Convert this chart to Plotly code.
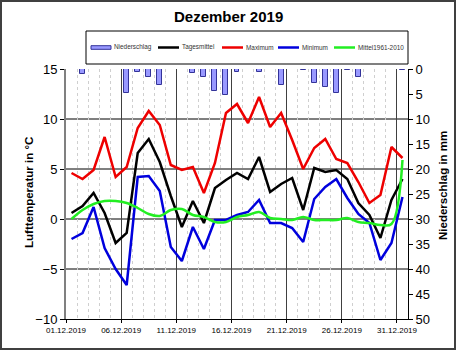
import plotly.graph_objects as go

# ---------------- data ----------------
days = list(range(1, 32))
tick_pos = [0.5, 5.5, 10.5, 15.5, 20.5, 25.5, 30.5]
tick_labels = ["01.12.2019", "06.12.2019", "11.12.2019", "16.12.2019",
               "21.12.2019", "26.12.2019", "31.12.2019"]

niederschlag = [0, 1.0, 0, 0, 0, 4.7, 0.5, 1.6, 3.2, 0, 0, 0.7, 1.6, 4.3, 5.1, 0.5,
                0, 0.5, 0, 3.1, 0, 0.1, 2.7, 3.5, 4.7, 0.1, 1.5, 0, 0, 0, 0.1]
tagesmittel = [0.6, 1.3, 2.6, 0.6, -2.4, -1.4, 6.6, 8.0, 5.7, 2.3, -0.8, 1.8, -0.4, 3.1,
               3.9, 4.6, 4.0, 6.2, 2.7, 3.5, 4.1, 0.9, 5.1, 4.7, 4.9, 4.0, 1.6, 0.4,
               -1.9, 1.9, 4.0]
maximum = [4.6, 4.0, 4.9, 8.2, 4.2, 5.2, 9.1, 10.8, 9.4, 5.4, 4.9, 5.2, 2.6, 5.6, 10.6,
           11.5, 9.6, 12.2, 9.2, 10.6, 7.9, 5.0, 7.1, 8.0, 6.0, 5.6, 3.7, 1.6, 2.4,
           7.2, 6.1]
minimum = [-2.0, -1.4, 1.2, -2.9, -5.0, -6.6, 4.2, 4.3, 2.8, -2.8, -4.2, -0.8, -3.0,
           -0.1, -0.1, 0.4, 0.7, 1.9, -0.4, -0.4, -0.9, -2.3, 2.0, 3.2, 4.0, 2.1, 0.5,
           -0.4, -4.1, -2.4, 2.2]
mittel_1961_2010 = [0.0, 0.9, 1.5, 1.8, 1.8, 1.6, 1.1, 0.5, 0.3, 0.9, 1.0, 0.4, 0.2,
                    -0.3, -0.3, 0.2, 0.4, 0.7, 0.1, 0.0, -0.1, 0.2, -0.1, -0.1, -0.1,
                    0.1, -0.3, -0.4, -0.6, -0.5, 5.9]

# ---------------- layout helpers ----------------
W, H = 456, 350
L, R, T, B = 66, 408, 69, 319
FONT = "Arial, Liberation Sans, sans-serif"


def px_x(p):
    return (p - L) / (R - L)


def px_y(p):
    return (B - p) / (B - T)


fig = go.Figure()

fig.add_trace(go.Bar(
    x=days, y=niederschlag, yaxis="y", width=0.45,
    marker=dict(color="#9999ff", line=dict(color="#333399", width=1)),
    name="Niederschlag", showlegend=False))

series = [
    ("Tagesmittel", tagesmittel, "#000000", "linear"),
    ("Maximum", maximum, "#ee0000", "linear"),
    ("Minimum", minimum, "#0000dd", "linear"),
    ("Mittel1961-2010", mittel_1961_2010, "#22ee22", "spline"),
]
for name, vals, color, shape in series:
    fig.add_trace(go.Scatter(
        x=days, y=vals, yaxis="y2", mode="lines", name=name,
        line=dict(color=color, width=2.5, shape=shape),
        showlegend=False))

shapes = []
# horizontal grid lines of the temperature axis
for v in [10, 5, 0, -5]:
    shapes.append(dict(type="line", xref="paper", x0=0, x1=1, yref="y2", y0=v, y1=v,
                       line=dict(color="#000000", width=1), layer="below"))
# outer frame
shapes.append(dict(type="rect", xref="paper", yref="paper",
                   x0=px_x(1), x1=px_x(455), y0=px_y(1), y1=px_y(349),
                   line=dict(color="#404040", width=2)))
# legend box
shapes.append(dict(type="rect", xref="paper", yref="paper",
                   x0=px_x(86), x1=px_x(408), y0=px_y(31), y1=px_y(64),
                   line=dict(color="#000000", width=1), fillcolor="white"))

annotations = []
ly = 47.5
legend_items = [
    ("Niederschlag", "bar", "#9999ff", 91, 111, 112),
    ("Tagesmittel", "line", "#000000", 158, 179, 180),
    ("Maximum", "line", "#ee0000", 222, 243, 244),
    ("Minimum", "line", "#0000dd", 278, 299, 300),
    ("Mittel1961-2010", "line", "#22ee22", 334, 355, 356),
]
for text, kind, color, s0, s1, tx in legend_items:
    if kind == "bar":
        shapes.append(dict(type="rect", xref="paper", yref="paper",
                           x0=px_x(s0), x1=px_x(s1), y0=px_y(ly - 1.8), y1=px_y(ly + 1.8),
                           fillcolor=color, line=dict(color="#333399", width=1)))
    else:
        shapes.append(dict(type="line", xref="paper", yref="paper",
                           x0=px_x(s0), x1=px_x(s1), y0=px_y(ly), y1=px_y(ly),
                           line=dict(color=color, width=2.5)))
    annotations.append(dict(text=text, xref="paper", yref="paper", x=px_x(tx), y=px_y(ly),
                            xanchor="left", yanchor="middle", showarrow=False,
                            font=dict(family=FONT, size=6.4, color="#333333")))

annotations.append(dict(text="<b>Dezember 2019</b>", xref="paper", yref="paper",
                        x=px_x(228), y=px_y(16), xanchor="center", yanchor="middle",
                        showarrow=False, font=dict(family=FONT, size=15, color="#000")))
annotations.append(dict(text="<b>Lufttemperatur in °C</b>", xref="paper", yref="paper",
                        x=px_x(29), y=px_y(193), xanchor="center", yanchor="middle",
                        textangle=-90, showarrow=False,
                        font=dict(family=FONT, size=11.5, color="#000")))
annotations.append(dict(text="<b>Niederschlag in mm</b>", xref="paper", yref="paper",
                        x=px_x(443), y=px_y(186), xanchor="center", yanchor="middle",
                        textangle=-90, showarrow=False,
                        font=dict(family=FONT, size=11.5, color="#000")))

fig.update_layout(
    width=W, height=H, autosize=False,
    margin=dict(l=L, r=W - R, t=T, b=H - B, pad=0),
    paper_bgcolor="white", plot_bgcolor="white",
    showlegend=False, bargap=0,
    font=dict(family=FONT, color="#000"),
    xaxis=dict(
        range=[0.5, 31.5], tickmode="array", tickvals=tick_pos, ticktext=tick_labels,
        showgrid=True, gridcolor="#404040", gridwidth=1,
        minor=dict(tickmode="linear", tick0=0.5, dtick=1, showgrid=True,
                   gridcolor="#cfcfcf", griddash="dot", gridwidth=1),
        showline=True, linecolor="#000000", linewidth=1,
        ticks="outside", ticklen=3, tickcolor="#000",
        tickfont=dict(family=FONT, size=8, color="#000"),
        zeroline=False, fixedrange=True),
    yaxis=dict(
        range=[50, 0], tickmode="linear", tick0=0, dtick=5, side="right",
        showgrid=False, zeroline=False,
        showline=True, linecolor="#000000", linewidth=1,
        ticks="outside", ticklen=4, tickcolor="#000",
        tickfont=dict(family=FONT, size=13, color="#000")),
    yaxis2=dict(
        range=[-10, 15], tickmode="linear", tick0=-10, dtick=5, side="left",
        overlaying="y", showgrid=False, zeroline=False,
        showline=True, linecolor="#808080", linewidth=2,
        ticks="outside", ticklen=4, tickcolor="#000",
        tickfont=dict(family=FONT, size=13, color="#000")),
    shapes=shapes,
    annotations=annotations,
)

fig.write_html("out.html")
